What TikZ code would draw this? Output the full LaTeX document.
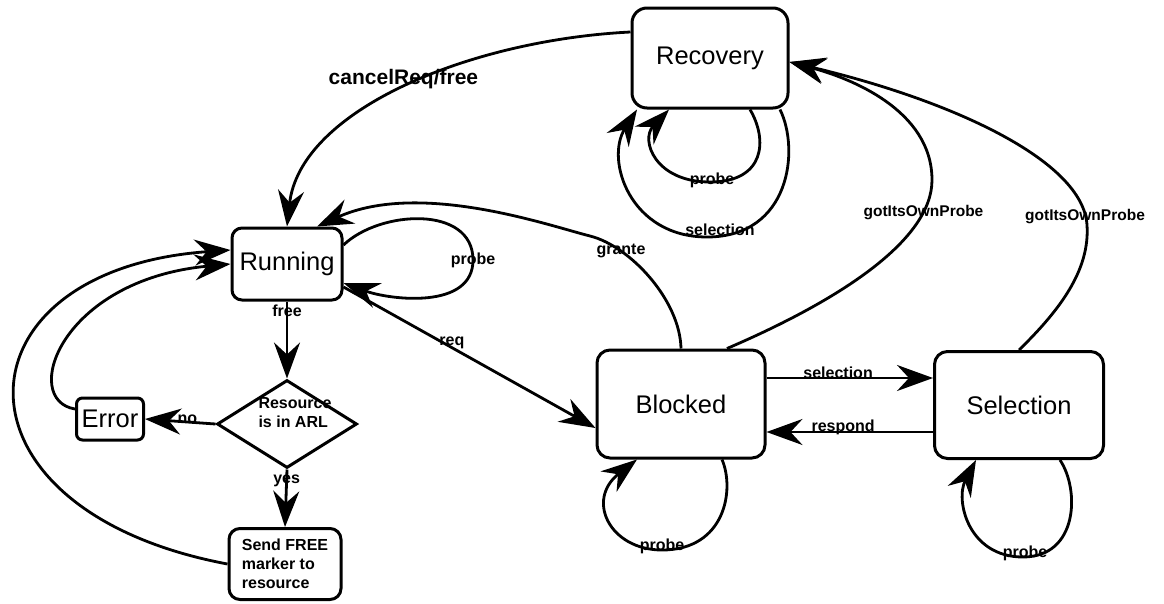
\documentclass[tikz,border=0pt]{standalone}
\usepackage{fontspec}
\setmainfont{Liberation Sans}
\usetikzlibrary{arrows.meta,shapes.geometric}

\begin{document}
\begin{tikzpicture}[x=1pt,y=-1pt,
  stbox/.style={draw, line width=3pt, rounded corners=13pt, inner sep=0pt,
    font=\fontsize{25.5}{28}\selectfont},
  lbl/.style={font=\fontsize{16}{19}\selectfont\bfseries, inner sep=0pt},
  biglbl/.style={font=\fontsize{21}{24}\selectfont\bfseries, inner sep=0pt},
  gotlbl/.style={font=\fontsize{15.5}{18}\selectfont\bfseries, inner sep=0pt},
  trans/.style={line width=2.8pt, -{Stealth[length=36pt 0 0,width=26pt 0 0,inset=12pt 0]}}
]
\useasboundingbox (0,0) rectangle (1164,603);

% states
\node[stbox, minimum width=156pt, minimum height=100pt, rounded corners=15pt] (rec) at (710,58) {Recovery};
\node[stbox, minimum width=110pt, minimum height=72pt, rounded corners=10pt] (run) at (287,264) {Running};
\node[stbox, minimum width=168pt, minimum height=108pt] (blk) at (681,404) {Blocked};
\node[stbox, minimum width=169pt, minimum height=107pt] (sel) at (1019,405) {Selection};
\node[stbox, minimum width=67pt, minimum height=42pt, rounded corners=6pt] (err) at (110,419) {Error};
\node[draw, diamond, line width=3pt, minimum width=140pt, minimum height=88pt, inner sep=0pt,
  label={[lbl, align=left, xshift=8pt, yshift=11pt]center:Resource\\is in ARL}] (dia) at (287,424) {};
\node[stbox, lbl, minimum width=112pt, minimum height=71pt, rounded corners=11pt, align=left] (send) at (285,564) {Send FREE\\marker to\\resource};

% Recovery -> Running
\draw[trans] ([yshift=26pt]rec.west) .. controls (470,40) and (300,110) .. (run.north)
  node[biglbl, pos=0.5, yshift=9pt] (lcancel) {cancelReq/free};

% Blocked -> Running
\draw[trans] (blk.north) .. controls (680,300) and (630,246) .. (590,236)
  node[lbl, pos=0.75] (lgrante) {grante}
  .. controls (550,226) and (420,180) .. ([xshift=30pt]run.north);

% Running self loop
\draw[trans] ([yshift=19pt]run.east) .. controls (380,210) and (473,205) .. (473,260)
  node[lbl] (lprobeR) {probe}
  .. controls (473,310) and (390,300) .. ([yshift=-19pt]run.east);

% Running -> Blocked
\draw[trans] ([yshift=-23pt]run.east) -- ([yshift=-24pt]blk.west)
  node[lbl, pos=0.43, yshift=5pt] (lreq) {req};

% release flow
\draw[trans] (run.south) -- (dia.north) node[lbl, pos=0.12] (lfree) {free};
\draw[trans] (dia.south) -- (send.north) node[lbl, pos=0.2] (lyes) {yes};
\draw[trans] (dia.west) -- (err.east) node[lbl, pos=0.4, yshift=3pt] (lno) {no};
\draw[trans] ([yshift=10pt]err.west) .. controls (20,400) and (60,280) .. (run.west);
\draw[trans] (send.west) .. controls (-60,510) and (-50,270) .. ([yshift=14pt]run.west);

% Recovery self loops
\draw[trans] ([xshift=40pt]rec.south) .. controls (768,140) and (765,182) .. (710,182)
  node[lbl, xshift=2pt, yshift=2pt] (lprobeRec) {probe}
  .. controls (655,182) and (640,140) .. ([xshift=-41pt]rec.south);
\draw[trans] ([xshift=70pt]rec.south) .. controls (800,150) and (790,237) .. (707,237)
  node[lbl, xshift=13pt, yshift=7pt] (lselRec) {selection}
  .. controls (630,237) and (605,160) .. ([xshift=-73pt]rec.south);

% Blocked / Selection -> Recovery
\draw[trans] ([xshift=46pt]blk.north) .. controls (840,300) and (932,240) .. (932,180)
  node[gotlbl, pos=0.82] (lgot1) {gotItsOwnProbe}
  .. controls (932,110) and (850,78) .. ([yshift=-4pt]rec.east);
\draw[trans] (sel.north) .. controls (1060,310) and (1090,270) .. (1087,225)
  node[gotlbl, xshift=-2pt, yshift=8pt] (lgot2) {gotItsOwnProbe}
  .. controls (1083,160) and (950,100) .. ([yshift=-4pt]rec.east);

% Blocked <-> Selection
\draw[trans] ([yshift=26pt]blk.east) -- ([yshift=27pt]sel.west)
  node[lbl, pos=0.43, yshift=5pt] (lsel) {selection};
\draw[trans] ([yshift=-27pt]sel.west) -- ([yshift=-28pt]blk.east)
  node[lbl, pos=0.54, yshift=5pt] (lresp) {respond};

% Blocked and Selection self loops
\draw[trans] ([xshift=41pt]blk.south) .. controls (735,490) and (725,550) .. (662,550)
  node[lbl, yshift=4pt] (lprobeB) {probe}
  .. controls (610,550) and (585,500) .. ([xshift=-44pt]blk.south);
\draw[trans] ([xshift=41pt]sel.south) .. controls (1080,490) and (1078,557) .. (1023,557)
  node[lbl, xshift=2pt, yshift=4pt] (lprobeS) {probe}
  .. controls (968,557) and (955,500) .. ([xshift=-43pt]sel.south);

\end{tikzpicture}
\end{document}
